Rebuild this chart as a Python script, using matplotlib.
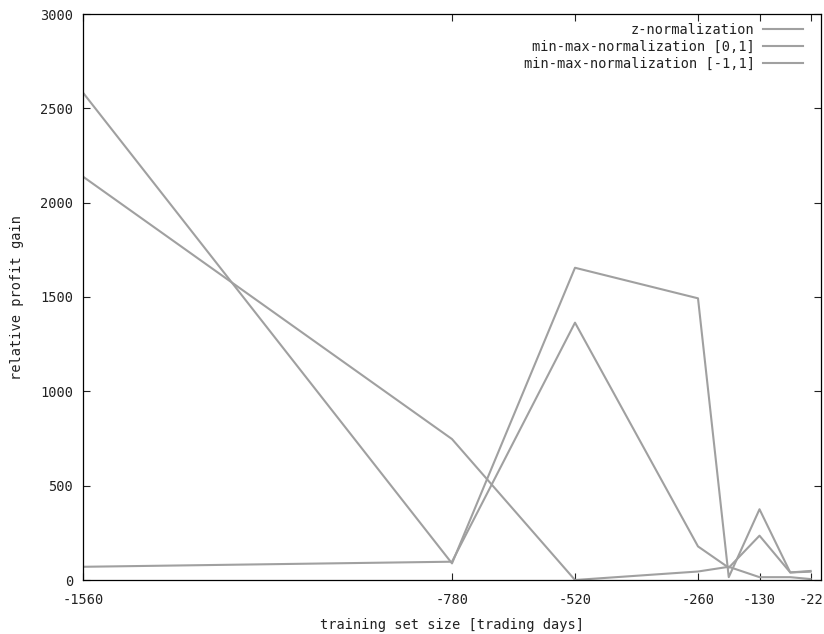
import matplotlib
matplotlib.use("Agg")
import matplotlib.pyplot as plt

# data
x_days = [-1560, -780, -520, -260, -195, -130, -65, -22]
z_norm = [2583, 88, 1655, 1493, 15, 375, 40, 48]
minmax_01 = [2138, 747, 0, 45, 70, 15, 15, 5]
minmax_11 = [70, 97, 1364, 178, 65, 235, 40, 44]
series_labels = ["z-normalization", "min-max-normalization [0,1]", "min-max-normalization [-1,1]"]
x_ticks = [-1560, -780, -520, -260, -130, -22]
y_ticks = [0, 500, 1000, 1500, 2000, 2500, 3000]

plt.rcParams['font.family'] = ['DejaVu Sans Mono']
plt.rcParams['axes.unicode_minus'] = False
fs = 9.8

fig = plt.figure(figsize=(8.24, 6.34), dpi=100)
ax = fig.add_axes([83/824, 1-580/634, (821-83)/824, (580-14)/634])

color = "#a0a0a0"
for ys, lab in zip([z_norm, minmax_01, minmax_11], series_labels):
    ax.plot(x_days, ys, color=color, lw=1.5, label=lab)

ax.set_xlim(-1560, 0)
ax.set_ylim(0, 3000)
ax.set_xticks(x_ticks)
ax.set_xticklabels([str(v) for v in x_ticks])
ax.set_yticks(y_ticks)
ax.tick_params(direction='in', top=True, right=True, length=5, width=0.8,
               labelsize=fs, colors='#222222', pad=7)
ax.tick_params(axis='x', pad=9)
for s in ax.spines.values():
    s.set_linewidth(0.9)

ax.set_xlabel("training set size [trading days]", fontsize=fs, labelpad=8, color='#222222')
ax.set_ylabel("relative profit gain", fontsize=fs, labelpad=12, color='#222222')

leg = ax.legend(loc='upper right', bbox_to_anchor=(807/824, 1-19/634),
                bbox_transform=fig.transFigure, frameon=False, markerfirst=False,
                fontsize=fs, handlelength=2.9, handletextpad=0.65, labelspacing=0.2,
                borderaxespad=0.0, borderpad=0.3)
for t in leg.get_texts():
    t.set_color('#222222')

fig.savefig("out.png", dpi=100)
